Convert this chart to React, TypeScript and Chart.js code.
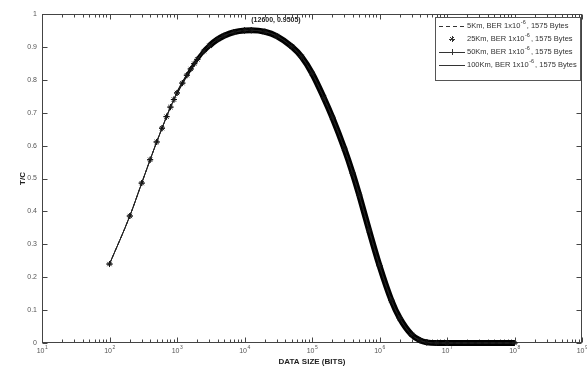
import React, { useEffect, useRef } from 'react';
import { Chart, registerables } from 'chart.js';

Chart.register(...registerables);

// ---------- data ----------
const dataSizeBits = [
  100, 200, 300, 400, 500, 600, 700, 800, 900, 1000,
  1200, 1400, 1600, 1800, 2000, 2500, 3000, 4000, 5000, 7000,
  10000, 12600, 20000, 30000, 50000, 70000, 100000, 150000, 200000, 300000,
  400000, 500000, 700000, 1000000, 1500000, 2000000, 3000000, 4000000, 5000000, 7000000,
  10000000, 100000000,
];
const tcValues = [
  0.240, 0.386, 0.486, 0.557, 0.611, 0.653, 0.688, 0.717, 0.740, 0.760,
  0.790, 0.814, 0.833, 0.849, 0.862, 0.887, 0.903, 0.923, 0.934, 0.945,
  0.950, 0.9505, 0.946, 0.933, 0.901, 0.870, 0.820, 0.745, 0.686, 0.592,
  0.516, 0.450, 0.343, 0.235, 0.130, 0.075, 0.025, 0.008, 0.002, 0,
  0, 0,
];
const seriesNames = ['5Km', '25Km', '50Km', '100Km'];
const berBase = 'BER 1x10';
const berExponents = ['-6', '-6', '-6', '-6'];
const packetSizes = ['1575 Bytes', '1575 Bytes', '1575 Bytes', '1575 Bytes'];

const xTickValues = [1e1, 1e2, 1e3, 1e4, 1e5, 1e6, 1e7, 1e8, 1e9];
const xTickExponents = ['1', '2', '3', '4', '5', '6', '7', '8', '9'];
const yTickValues = [0, 0.1, 0.2, 0.3, 0.4, 0.5, 0.6, 0.7, 0.8, 0.9, 1];
const yTickLabels = ['0', '0.1', '0.2', '0.3', '0.4', '0.5', '0.6', '0.7', '0.8', '0.9', '1'];

const peakBits = 12600;
const peakTc = 0.9505;
const peakLabel = '(12600, 0.9505)';
const xTitle = 'DATA SIZE (BITS)';
const yTitle = 'T/C';

const FONT = '"Liberation Sans", Arial, Helvetica, sans-serif';
const AXIS_COLOR = '#444';
const LABEL_COLOR = '#555';

const points = dataSizeBits.map((x, i) => ({ x, y: tcValues[i] }));

const segWidth = (ctx: any) => {
  const x = ctx.p0.parsed.x;
  if (x < 1000) return 1;
  if (x < 1400) return 2;
  if (x < 2000) return 3;
  if (x < 2500) return 4;
  if (x < 3000) return 5;
  return 6;
};

const drawSup = (ctx: CanvasRenderingContext2D, base: string, exp: string, x: number, y: number, size: number, supSize: number, align: 'left' | 'center') => {
  ctx.font = `${size}px ${FONT}`;
  const wb = ctx.measureText(base).width;
  ctx.font = `${supSize}px ${FONT}`;
  const we = ctx.measureText(exp).width;
  let start = x;
  if (align === 'center') start = x - (wb + we) / 2;
  ctx.textAlign = 'left';
  ctx.textBaseline = 'middle';
  ctx.font = `${size}px ${FONT}`;
  ctx.fillText(base, start, y);
  ctx.font = `${supSize}px ${FONT}`;
  ctx.fillText(exp, start + wb + 0.5, y - size * 0.45);
  return start + wb + 0.5 + we;
};

const framePlugin = {
  id: 'frame',
  beforeDatasetsDraw(chart: any) {
    const { ctx, chartArea: a, scales } = chart;
    const xs = scales.x;
    const ys = scales.y;
    const L = Math.round(a.left) + 0.5;
    const R = Math.round(a.right) - 0.5;
    const T = Math.round(a.top) + 0.5;
    const B = Math.round(a.bottom) - 0.5;
    ctx.save();
    ctx.strokeStyle = AXIS_COLOR;
    ctx.lineWidth = 1;
    ctx.strokeRect(L, T, R - L, B - T);
    ctx.beginPath();
    for (let i = 0; i < xTickValues.length; i++) {
      const d = xTickValues[i];
      for (let k = 1; k <= 9; k++) {
        const v = d * k;
        if (v > xTickValues[xTickValues.length - 1]) break;
        const px = Math.round(xs.getPixelForValue(v)) + 0.5;
        const len = k === 1 ? 5 : 3;
        ctx.moveTo(px, B);
        ctx.lineTo(px, B - len);
        ctx.moveTo(px, T);
        ctx.lineTo(px, T + len);
      }
    }
    for (const v of yTickValues) {
      const py = Math.round(ys.getPixelForValue(v)) + 0.5;
      ctx.moveTo(L, py);
      ctx.lineTo(L + 5, py);
      ctx.moveTo(R, py);
      ctx.lineTo(R - 5, py);
    }
    ctx.stroke();

    // x tick labels with superscripts
    ctx.fillStyle = LABEL_COLOR;
    xTickValues.forEach((v, i) => {
      const px = xs.getPixelForValue(v);
      drawSup(ctx, '10', xTickExponents[i], px, 351, 7, 5, 'center');
    });

    // axis titles
    ctx.fillStyle = '#222';
    ctx.font = `bold 8px ${FONT}`;
    ctx.textAlign = 'center';
    ctx.textBaseline = 'middle';
    ctx.fillText(xTitle, (a.left + a.right) / 2, 362);
    ctx.save();
    ctx.translate(23, (a.top + a.bottom) / 2);
    ctx.rotate(-Math.PI / 2);
    ctx.fillText(yTitle, 0, 0);
    ctx.restore();
    ctx.restore();
  },
  afterDraw(chart: any) {
    const { ctx, scales } = chart;
    const xs = scales.x;
    const ys = scales.y;
    ctx.save();
    // peak annotation
    ctx.fillStyle = '#222';
    ctx.font = `bold 7px ${FONT}`;
    ctx.textAlign = 'left';
    ctx.textBaseline = 'middle';
    ctx.fillText(peakLabel, xs.getPixelForValue(peakBits), ys.getPixelForValue(peakTc) - 10);

    // legend box
    const bx = 435.5, by = 17.5, bw = 145, bh = 63;
    ctx.fillStyle = '#fff';
    ctx.fillRect(bx, by, bw, bh);
    ctx.strokeStyle = '#555';
    ctx.lineWidth = 1;
    ctx.strokeRect(bx, by, bw, bh);
    const rows = [26, 39, 52, 65];
    ctx.strokeStyle = '#333';
    ctx.fillStyle = '#333';
    rows.forEach((ry, i) => {
      const x0 = 439, x1 = 465, xm = 452;
      ctx.beginPath();
      ctx.setLineDash(i === 0 ? [4, 3] : []);
      if (i !== 1) {
        ctx.moveTo(x0, ry + 0.5);
        ctx.lineTo(x1, ry + 0.5);
      }
      ctx.stroke();
      ctx.setLineDash([]);
      if (i === 1 || i === 2) {
        ctx.beginPath();
        const r = 3;
        ctx.moveTo(xm - r, ry + 0.5);
        ctx.lineTo(xm + r, ry + 0.5);
        ctx.moveTo(xm + 0.5, ry - r);
        ctx.lineTo(xm + 0.5, ry + r);
        if (i === 1) {
          ctx.moveTo(xm - 2, ry - 2);
          ctx.lineTo(xm + 2, ry + 2);
          ctx.moveTo(xm - 2, ry + 2);
          ctx.lineTo(xm + 2, ry - 2);
        }
        ctx.stroke();
      }
      const end = drawSup(ctx, `${seriesNames[i]}, ${berBase}`, berExponents[i], 467, ry, 7.5, 5.5, 'left');
      ctx.font = `7.5px ${FONT}`;
      ctx.fillText(`, ${packetSizes[i]}`, end + 1, ry);
    });
    ctx.restore();
  },
};

export default function App() {
  const ref = useRef<HTMLCanvasElement | null>(null);
  useEffect(() => {
    if (!ref.current) return;
    const chart = new Chart(ref.current, {
      type: 'line',
      data: {
        datasets: [
          {
            label: seriesNames[0],
            data: points,
            borderColor: '#222',
            borderWidth: 1,
            borderDash: [4, 3],
            pointRadius: 0,
            fill: false,
            clip: false as any,
            cubicInterpolationMode: 'monotone',
          },
          {
            label: seriesNames[1],
            data: points,
            showLine: false,
            pointStyle: 'star',
            pointRadius: 3,
            pointBorderColor: '#111',
            pointBackgroundColor: '#111',
            pointBorderWidth: 1,
            clip: false as any,
          },
          {
            label: seriesNames[2],
            data: points,
            borderColor: '#222',
            borderWidth: 1,
            pointStyle: 'cross',
            pointRadius: 3,
            pointBorderColor: '#111',
            pointBorderWidth: 1,
            fill: false,
            clip: false as any,
            cubicInterpolationMode: 'monotone',
          },
          {
            label: seriesNames[3],
            data: points,
            borderColor: '#000',
            borderWidth: 1,
            pointRadius: 0,
            fill: false,
            clip: false as any,
            cubicInterpolationMode: 'monotone',
            segment: { borderWidth: segWidth } as any,
          },
        ],
      },
      options: {
        animation: false,
        responsive: false,
        devicePixelRatio: 1,
        layout: { padding: { left: 0, top: 14, right: 4, bottom: 0 } },
        plugins: { legend: { display: false }, tooltip: { enabled: false } },
        scales: {
          x: {
            type: 'logarithmic',
            min: 10,
            max: 1e9,
            grid: { display: false, drawTicks: false },
            border: { display: false },
            ticks: { display: false },
            afterFit: (s: any) => {
              s.height = 28;
              s.paddingLeft = 0;
              s.paddingRight = 0;
            },
          },
          y: {
            type: 'linear',
            min: 0,
            max: 1,
            grid: { display: false, drawTicks: false },
            border: { display: false },
            afterBuildTicks: (s: any) => {
              s.ticks = yTickValues.map((v) => ({ value: v }));
            },
            ticks: {
              autoSkip: false,
              padding: 5,
              color: LABEL_COLOR,
              font: { size: 7, family: FONT },
              callback: (_v: any, i: number) => yTickLabels[i],
            },
            afterFit: (s: any) => {
              s.width = 42;
              s.paddingTop = 0;
              s.paddingBottom = 0;
            },
          },
        },
      } as any,
      plugins: [framePlugin],
    });
    return () => chart.destroy();
  }, []);
  return (
    <div style={{ position: 'fixed', left: 0, top: 0, width: 587, height: 371, background: '#fff' }}>
      <canvas ref={ref} width={587} height={371} />
    </div>
  );
}
